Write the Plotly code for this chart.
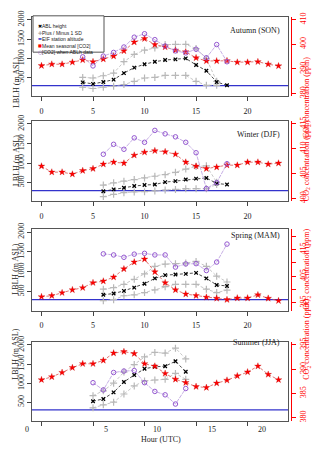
import plotly.graph_objects as go

# ---------------- data ----------------
HOURS = list(range(24))
EIF_ALT = 300  # m ASL

SEASONS = ["Autumn (SON)", "Winter (DJF)", "Spring (MAM)", "Summer (JJA)"]

aut_hours = list(range(4, 19))
aut_abl = [386, 346, 396, 455, 624, 766, 852, 918, 961, 979, 1004, 835, 683, 396, 310]
aut_plus = [513, 498, 556, 624, 918, 1106, 1215, 1273, 1359, 1367, 1367, 1258, 1004, 412, None]
aut_minus = [260, 227, 260, 285, 328, 412, 498, 513, 564, 564, 564, 412, 310, 310, None]
aut_co2_mean = [391.3, 391.9, 391.9, 392.7, 393.6, 392.9, 394.0, 395.2, 397.3, 400.9, 402.3, 399.9,
                398.9, 397.6, 396.9, 394.5, 393.2, 393.2, 393.3, 392.7, 392.7, 392.9, 391.9, 391.2]
aut_co2_abl = [394.9, 391.2, 395.2, 396.7, 398.9, 402.9, 404.3, 401.9, 399.3, 397.3, 396.5, 398.0,
               394.5, 399.9, 392.9]

win_hours = list(range(6, 19))
win_abl = [285, 332, 374, 417, 442, 457, 517, 542, 582, 607, 624, 482, 457]
win_plus = [442, 499, 542, 582, 624, 667, 707, 767, 850, 917, 932, 517, None]
win_minus = [149, 207, 249, 267, 274, 292, 317, 332, 349, 349, 349, 457, None]
win_co2_mean = [406.5, 405.3, 405.3, 404.9, 405.6, 406.0, 406.9, 407.3, 407.1, 408.7, 409.3, 409.6,
                409.4, 408.9, 407.3, 406.5, 406.0, 406.3, 406.7, 406.7, 407.3, 407.3, 406.9, 407.1]
win_co2_abl = [408.9, 410.9, 409.9, 412.2, 411.3, 413.7, 413.0, 412.4, 411.3, 409.2, 402.0, 403.2, 407.0]

spr_hours = list(range(6, 19))
spr_abl = [420, 452, 518, 600, 699, 832, 914, 931, 946, 971, 832, 667, 642]
spr_plus = [560, 600, 684, 808, 946, 1136, 1193, 1203, 1218, 1260, 1136, 889, 741]
spr_minus = [271, 296, 395, 420, 476, 543, 625, 684, 684, 684, 560, 476, 536]
spr_co2_mean = [397.2, 397.6, 398.7, 399.8, 400.6, 402.5, 403.1, 404.6, 407.7, 410.3, 411.4, 406.6,
                402.5, 399.8, 398.2, 397.6, 397.0, 396.6, 396.1, 396.7, 396.7, 397.9, 396.6, 395.7]
spr_co2_abl = [413.4, 413.0, 412.1, 413.3, 413.6, 413.0, 413.0, 408.4, 409.6, 409.7, 407.1, 410.3, 417.1]

sum_hours = list(range(5, 15))
sum_abl = [529, 588, 760, 1032, 1212, 1376, 1427, 1443, 1571, 1299]
sum_plus = [673, 801, 999, 1289, 1486, 1684, 1802, 1786, 1914, 1632]
sum_minus = [357, 434, 504, 717, 929, 1058, 1083, 1101, 1255, 1101]
sum_co2_mean = [387.8, 388.4, 389.3, 390.3, 391.1, 391.1, 391.8, 393.3, 393.6, 393.2, 391.1, 390.6,
                389.1, 387.9, 387.2, 386.4, 386.2, 387.1, 387.7, 388.6, 389.4, 390.6, 388.9, 387.8]
sum_co2_abl = [387.2, 385.7, 389.3, 389.6, 389.7, 387.2, 385.4, 384.7, 382.8, 386.0]

X_TICKS = [0, 5, 10, 15, 20]
LBLH_TICKS = [500, 1000, 1500, 2000]
CO2_TICKS = [[380, 390, 400, 410], [400, 405, 410, 415], [395, 405, 415], [380, 385, 390, 395]]
CO2_MINOR = [[], [], [400, 410, 420], []]
CO2_RANGES = [[378.8, 411.2], [399.4, 415.6], [392.0, 422.8], [379.4, 395.6]]
LBLH_RANGE = [24, 2076]
X_RANGE = [-0.92, 23.92]
# bottom panel tick labels (offset as in the original)
BOTTOM_LABEL_POS = [-1.405, 6.26, 11.21, 16.55, 21.40]
BOTTOM_LABEL_TXT = ["0", "5", "10", "15", "20"]

season_data = [
    (aut_hours, aut_abl, aut_plus, aut_minus, aut_co2_mean, aut_co2_abl),
    (win_hours, win_abl, win_plus, win_minus, win_co2_mean, win_co2_abl),
    (spr_hours, spr_abl, spr_plus, spr_minus, spr_co2_mean, spr_co2_abl),
    (sum_hours, sum_abl, sum_plus, sum_minus, sum_co2_mean, sum_co2_abl),
]

# ---------------- layout helpers ----------------
W, H = 320, 452
def fx(p):
    return p / W
def fy(p):
    return 1 - p / H

PANELS = [(11, 92), (117, 199), (227, 310), (342, 422)]
X_DOM = [fx(32), fx(288)]
SERIF = "Liberation Serif"
SANS = "Liberation Sans"
RED = "#FF0000"
PURPLE = "#9457D0"
GREY = "#B8B8B8"

fig = go.Figure()
layout = dict(width=W, height=H, margin=dict(l=0, r=0, t=0, b=0),
              paper_bgcolor="white", plot_bgcolor="rgba(0,0,0,0)", showlegend=False)
shapes, annotations = [], []

for i, (hrs, abl, plus, minus, co2m, co2a) in enumerate(season_data):
    n = i + 1
    xa = "x" if n == 1 else f"x{n}"
    ya = "y" if n == 1 else f"y{n}"
    yr = f"y{n + 4}"
    top, bot = PANELS[i]

    dash = "3px,2px"
    for sd in (plus, minus):
        fig.add_trace(go.Scatter(x=hrs, y=sd, xaxis=xa, yaxis=ya, mode="lines+markers",
                                 line=dict(color=GREY, width=0.8, dash=dash),
                                 marker=dict(symbol="cross-thin", size=5, line=dict(color=GREY, width=1.2)),
                                 connectgaps=False, hoverinfo="skip"))
    fig.add_trace(go.Scatter(x=hrs, y=abl, xaxis=xa, yaxis=ya, mode="lines+markers",
                             line=dict(color="#222222", width=0.8, dash=dash),
                             marker=dict(symbol="x-thin", size=3.5, line=dict(color="black", width=1.3)),
                             hoverinfo="skip"))
    fig.add_trace(go.Scatter(x=HOURS, y=co2m, xaxis=xa, yaxis=yr, mode="lines+markers",
                             line=dict(color="#D9534F", width=0.8, dash=dash),
                             marker=dict(symbol="star", size=5, color=RED,
                                         line=dict(color="#C00000", width=0.3)),
                             hoverinfo="skip"))
    fig.add_trace(go.Scatter(x=hrs, y=co2a, xaxis=xa, yaxis=yr, mode="lines+markers",
                             line=dict(color="#B79BDD", width=0.8, dash="4px,1px"),
                             marker=dict(symbol="circle-open", size=4.5, color=PURPLE,
                                         line=dict(color=PURPLE, width=1)),
                             hoverinfo="skip"))

    shapes.append(dict(type="line", xref=f"{xa} domain", x0=0, x1=1, yref=ya,
                       y0=EIF_ALT, y1=EIF_ALT, line=dict(color="#3333CC", width=1.3), layer="below"))

    ydom = [fy(bot), fy(top)]
    layout["xaxis" if n == 1 else f"xaxis{n}"] = dict(
        domain=X_DOM, range=X_RANGE, anchor=ya, tickvals=X_TICKS, ticks="outside", ticklen=4,
        tickcolor="#444", showline=True, mirror=True, linecolor="#555", linewidth=1,
        showgrid=False, zeroline=False, showticklabels=(n != 4),
        tickfont=dict(family=SERIF, size=8, color="#222"), ticklabelstandoff=3)
    layout["yaxis" if n == 1 else f"yaxis{n}"] = dict(
        domain=ydom, range=LBLH_RANGE, anchor=xa, tickvals=LBLH_TICKS, tickangle=-90,
        ticks="outside", ticklen=4, tickcolor="#444", showline=True, mirror=True,
        linecolor="#555", linewidth=1, showgrid=False, zeroline=False,
        tickfont=dict(family=SERIF, size=8, color="#222"))
    ry = dict(
        overlaying=ya, anchor="free", position=fx(291), side="right",
        range=CO2_RANGES[i], tickvals=CO2_TICKS[i], tickangle=-90,
        ticks="outside", ticklen=4, tickcolor=RED, showline=True, linecolor=RED, linewidth=1,
        showgrid=False, zeroline=False, tickfont=dict(family=SERIF, size=8, color=RED))
    if CO2_MINOR[i]:
        ry["minor"] = dict(tickvals=CO2_MINOR[i], ticks="outside", ticklen=4, tickcolor=RED, showgrid=False)
    layout[f"yaxis{n + 4}"] = ry

    mid = (top + bot) / 2
    annotations.append(dict(text="LBLH (m ASL)", x=fx(10.5), y=fy(mid), xref="paper", yref="paper",
                            textangle=-90, showarrow=False, borderpad=0,
                            font=dict(family=SERIF, size=8, color="#222")))
    annotations.append(dict(text="CO<sub>2</sub> concentration (ppm)", x=fx(313), y=fy(mid),
                            xref="paper", yref="paper", textangle=-90, showarrow=False, borderpad=0,
                            font=dict(family=SERIF, size=8, color=RED)))
    annotations.append(dict(text=SEASONS[i], x=fx(282), y=fy(top + 7), xref="paper", yref="paper",
                            xanchor="right", showarrow=False, font=dict(family=SERIF, size=8, color="#222")))

# bottom panel labels (shifted like the original)
fig.add_trace(go.Scatter(x=[], y=[], xaxis="x5", yaxis="y4", hoverinfo="skip"))
layout["xaxis5"] = dict(domain=[fx(16), fx(288)], range=[X_RANGE[0] - 16 / 10.306, X_RANGE[1]],
                        anchor="y4", tickvals=BOTTOM_LABEL_POS, ticktext=BOTTOM_LABEL_TXT, ticks="",
                        showline=False, showgrid=False, zeroline=False, ticklabelstandoff=2,
                        tickfont=dict(family=SERIF, size=8, color="#222"))
annotations.append(dict(text="Hour (UTC)", x=fx(161), y=fy(447), xref="paper", yref="paper",
                        showarrow=False, borderpad=0, font=dict(family=SERIF, size=8, color="#222")))

# legend box (panel 1)
shapes.append(dict(type="rect", xref="paper", yref="paper", x0=fx(33), x1=fx(104), y0=fy(47), y1=fy(10),
                   line=dict(color="#555", width=1), fillcolor="white", layer="above"))
LEG = [("✖", "black", 5, "ABL height"), ("✚", "#AAAAAA", 5, "Plus / Minus 1 SD"),
       ("▬", "#3333CC", 4, "EIF station altitude"), ("■", RED, 4, "Mean seasonal [CO2]"),
       ("○", PURPLE, 5, "[CO2] when ABLh data")]
for k, (sym, col, sz, lab) in enumerate(LEG):
    yy = 16.5 + k * 6.6
    annotations.append(dict(text=sym, x=fx(37), y=fy(yy), xref="paper", yref="paper", showarrow=False,
                            borderpad=0, font=dict(family="DejaVu Sans", size=sz, color=col)))
    annotations.append(dict(text=lab, x=fx(41), y=fy(yy), xref="paper", yref="paper", xanchor="left",
                            showarrow=False, borderpad=0, font=dict(family=SANS, size=5, color="#222")))

layout["shapes"] = shapes
layout["annotations"] = annotations
fig.update_layout(**layout)
fig.write_html("out.html", config={"displayModeBar": False},
               post_script="document.body.style.margin='0px';")
